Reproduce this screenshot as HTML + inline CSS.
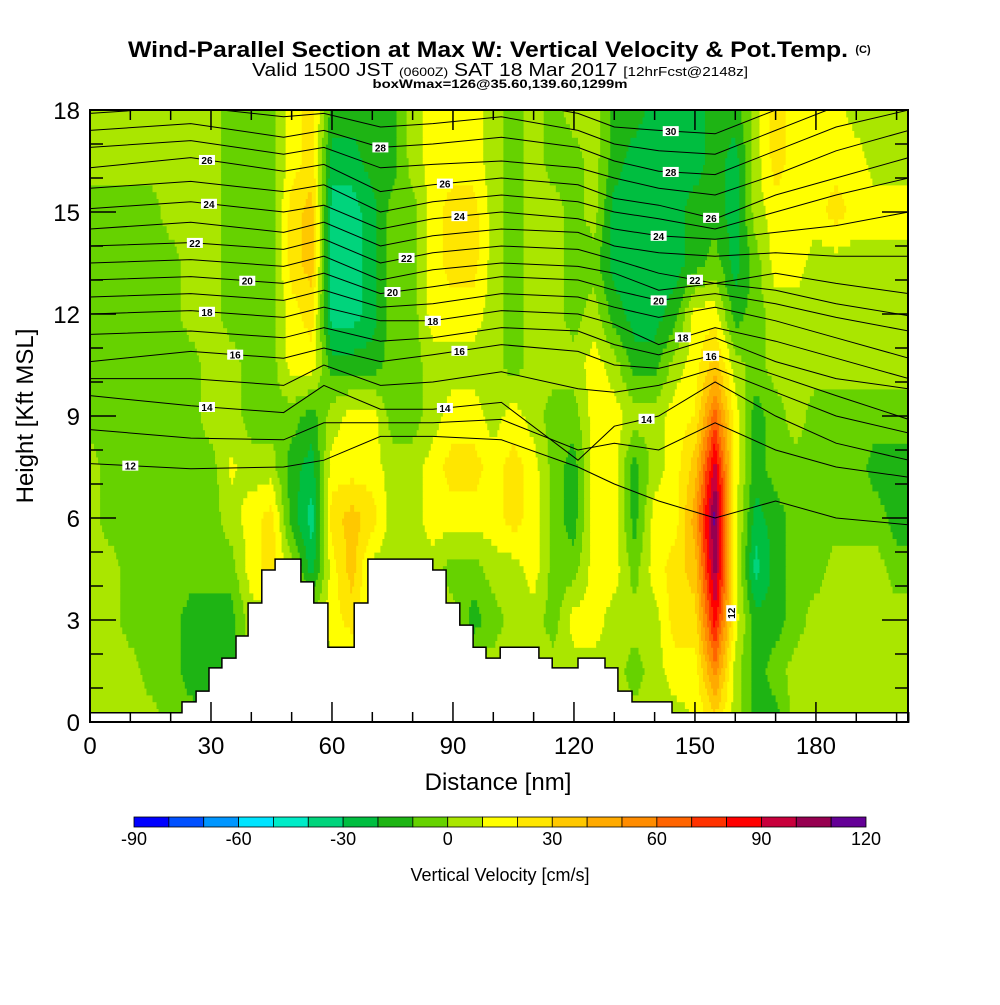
<!DOCTYPE html>
<html><head><meta charset="utf-8">
<style>
body{margin:0;background:#fff;}
svg text{font-family:"Liberation Sans",sans-serif;}
</style></head>
<body>
<svg id="chart" width="1000" height="1000" viewBox="0 0 1000 1000" xmlns="http://www.w3.org/2000/svg">
<rect width="1000" height="1000" fill="#fff"/>
<text x="488" y="57" text-anchor="middle" font-size="22" font-weight="bold" textLength="720" lengthAdjust="spacingAndGlyphs">Wind-Parallel Section at Max W: Vertical Velocity &amp; Pot.Temp.</text>
<text x="863" y="53" text-anchor="middle" font-size="11" font-weight="bold">(C)</text>
<text x="500" y="76" text-anchor="middle" font-size="18" textLength="496" lengthAdjust="spacingAndGlyphs">Valid 1500 JST <tspan font-size="12">(0600Z)</tspan> SAT 18 Mar 2017 <tspan font-size="13">[12hrFcst@2148z]</tspan></text>
<text x="500" y="88" text-anchor="middle" font-size="12" font-weight="bold" textLength="255" lengthAdjust="spacingAndGlyphs">boxWmax=126@35.60,139.60,1299m</text>
<defs><clipPath id="plotclip"><rect x="90" y="110" width="818" height="612"/></clipPath></defs>
<g id="field" clip-path="url(#plotclip)"></g>
<g id="isentropes" clip-path="url(#plotclip)"></g>
<g id="terrain"></g>
<g id="clabels"></g>
<g id="axes"></g>
<g id="colorbar"></g>
<text transform="translate(33,416) rotate(-90)" text-anchor="middle" font-size="24">Height [Kft MSL]</text>
<text x="498" y="790" text-anchor="middle" font-size="24">Distance [nm]</text>
<text x="500" y="881" text-anchor="middle" font-size="18">Vertical Velocity [cm/s]</text>
</svg>
<script>
// ---- data ----
const gridX = [0,5,10,15,20,25,30,35,40,45,50,55,60,65,70,75,80,85,90,95,100,105,110,115,120,125,130,135,140,145,150,155,160,165,170,175,180,185,190,195,200,205];
const gridK = [0,1.5,3,4.5,6,7.5,9,10.5,12,13.5,15,16.5,18];
const wCols = [
[5,5,5,5,5,5,-5,-5,-5,-5,-5,5,5],
[5,5,5,5,-5,-5,-5,-5,-5,-5,-5,5,5],
[5,5,-5,-5,-5,-5,-5,-5,-5,-5,-5,5,5],
[5,-5,-5,-5,-5,-5,-5,-5,-5,-5,-5,5,5],
[-5,-5,-5,-5,-5,-5,-5,-5,-5,-5,5,5,5],
[-5,-15,-15,-5,-5,-5,-5,-5,5,5,5,5,5],
[-15,-15,-15,-5,-5,-5,5,5,5,5,5,5,5],
[-15,-15,-15,-5,5,12,5,5,-5,-5,-5,-5,-5],
[5,5,5,15,15,5,-5,-5,-5,-5,-5,-5,-5],
[5,5,5,25,25,5,-5,-5,-5,-5,-5,-5,-5],
[5,5,5,5,-15,-15,-5,15,15,25,25,15,15],
[5,5,5,-25,-35,-25,-15,15,25,35,35,25,25],
[5,5,15,15,25,15,5,-15,-35,-35,-35,-25,-15],
[5,5,25,35,35,15,15,-15,-35,-35,-35,-25,-15],
[5,5,5,5,25,15,15,-15,-25,-25,-25,-15,-15],
[5,5,5,5,5,5,-5,-5,-5,-5,-5,-15,-15],
[5,5,5,5,5,5,-5,-5,-5,-5,-5,5,5],
[5,5,5,5,15,15,5,5,15,15,15,15,15],
[5,5,5,-5,15,25,15,5,15,25,25,15,15],
[5,5,-15,-5,15,25,15,5,15,25,25,15,15],
[5,5,-5,5,15,15,5,5,5,5,5,5,5],
[5,5,5,5,25,25,15,-5,-5,-5,-5,-5,-5],
[5,5,5,15,15,15,5,5,5,5,5,5,5],
[5,5,-5,-5,-5,-5,-5,5,5,5,5,-5,-5],
[5,5,15,-5,-15,-15,-5,5,-5,-5,-5,-5,5],
[5,5,15,15,15,15,15,15,5,-5,5,5,5],
[5,5,5,15,15,15,15,5,-15,-25,-25,-15,-15],
[5,-5,5,-5,-15,-15,5,-15,-25,-25,-25,-25,-15],
[5,5,5,15,15,5,5,-15,-25,-25,-25,-25,-25],
[5,15,25,25,15,15,15,5,-15,-25,-25,-25,-25],
[10,15,25,35,45,35,20,15,15,-15,-15,-25,-25],
[25,55,85,105,115,95,65,35,15,-5,-15,-15,-15],
[5,5,15,15,15,15,15,5,-15,-25,-25,-25,-15],
[-15,-15,-15,-35,-25,-15,-15,-5,-5,-5,5,5,5],
[-15,-5,-15,-15,-15,-5,-5,5,5,15,15,25,25],
[5,5,-5,-5,-5,-5,5,5,5,15,15,15,15],
[5,5,5,-5,-5,-5,-5,5,5,5,15,15,15],
[5,5,5,5,-5,-5,-5,5,5,5,25,15,15],
[5,5,5,5,-5,-5,-5,5,5,5,15,15,5],
[5,5,5,5,-5,-15,-5,5,5,5,15,5,5],
[5,5,5,-5,-15,-15,-5,5,5,5,15,5,5],
[5,5,5,-5,-15,-15,-5,5,5,5,15,5,5]
];
const thetaLevels = [12,13,14,15,16,17,18,19,20,21,22,23,24,25,26,27,28,29,30];
const thetaNodesX = [0,25,48,58,72,85,102,121,130,141,155,170,185,203];
const thetaHeights = [
[7.6,7.45,7.5,7.7,8.4,8.4,8.3,7.5,7.0,6.5,6.0,6.5,6.0,5.8],
[8.6,8.35,8.3,8.8,8.8,8.8,8.9,8.0,8.2,8.0,8.8,8.0,7.5,7.2],
[9.6,9.3,9.1,9.9,9.2,9.2,9.4,7.7,8.7,9.0,10.0,9.0,8.2,7.7],
[10.1,10.1,9.9,10.5,9.9,10.0,10.3,9.8,9.7,9.9,10.4,9.7,9.0,8.5],
[10.6,10.9,10.7,11.0,10.6,10.8,11.1,10.9,10.5,10.4,10.8,10.2,9.6,8.9],
[11.4,11.5,11.3,11.6,11.2,11.3,11.6,11.5,11.1,10.8,11.3,10.6,10.1,9.8],
[12.0,12.1,11.9,12.2,11.8,11.8,12.1,12.0,11.7,11.1,11.6,11.2,10.7,10.1],
[12.5,12.6,12.4,12.7,12.2,12.3,12.6,12.5,12.2,11.9,12.2,11.8,11.3,10.7],
[13.0,13.1,12.9,13.2,12.6,12.8,13.1,13.0,12.7,12.4,12.6,12.3,11.9,11.5],
[13.5,13.6,13.4,13.7,13.0,13.3,13.5,13.4,13.2,12.7,12.9,12.7,12.3,11.95],
[14.0,14.1,13.9,14.2,13.5,13.8,14.0,13.9,13.6,13.2,12.9,13.2,12.9,12.6],
[14.5,14.7,14.4,14.7,14.0,14.3,14.5,14.4,14.0,13.8,13.7,13.8,13.7,13.7],
[15.1,15.3,15.0,15.2,14.5,14.8,15.0,14.8,14.5,14.3,14.2,14.4,14.6,15.0],
[15.7,15.9,15.6,15.8,15.0,15.3,15.5,15.3,15.0,14.8,14.5,15.0,15.5,16.0],
[16.3,16.6,16.2,16.4,15.6,15.8,16.0,15.8,15.4,15.2,14.8,15.5,16.0,16.6],
[16.9,17.1,16.7,16.9,16.3,16.4,16.5,16.3,16.0,15.7,15.5,16.1,16.8,17.4],
[17.4,17.6,17.2,17.4,16.9,17.0,17.2,16.9,16.5,16.2,16.1,16.8,17.5,18.0],
[17.9,18.1,17.8,17.9,17.5,17.6,17.8,17.4,17.0,16.8,16.7,17.4,18.1,18.5],
[18.4,18.6,18.3,18.4,18.1,18.1,18.3,17.9,17.5,17.4,17.3,18.0,18.6,19.0]
];
const labelLevels = [26,24,22,20,18,16,14,12,28,26,24,22,20,18,16,14,30,28,26,24,22,20,18,16,14];
const labelNm =     [29,29.5,26,39,29,36,29,10,72,88,91.6,78.5,75,85,91.6,88,144,144,154,141,150,141,147,154,138];
const terrainEdges = [0,22.8,26.3,29.5,32.7,36.2,39.2,42.6,45.9,52.3,55.5,59,65.5,68.9,85,88.3,91.7,95,98.2,101.7,111.3,114.6,121,127.7,130.9,134.4,144.3,203];
const terrainH = [0.27,0.59,0.91,1.59,1.88,2.53,3.5,4.47,4.79,4.12,3.5,2.2,3.5,4.79,4.47,3.5,2.85,2.2,1.88,2.2,1.88,1.59,1.88,1.59,0.91,0.59,0.27];
const xTicks = [0,30,60,90,120,150,180];
const yTicks = [0,3,6,9,12,15,18];
const cbarLabels = [-90,-60,-30,0,30,60,90,120];
const cbarColors = ["#0000ff","#0050ff","#0096ff","#00e4ff","#00ecc8","#00d47c","#00be40","#1eb414","#66d200","#aae600","#ffff00","#ffe600","#ffc800","#ffaa00","#ff8c00","#ff6400","#ff3200","#ff0000","#c8003c","#960050","#640096"];

// ---- axes functions ----
const NS="http://www.w3.org/2000/svg";
const X0=90,X1=908,Y0=722,Y1=110;
const pxPerNm=4.033, pxPerK=34;
function X(nm){return X0+nm*pxPerNm;}
function Y(k){return Y0-k*pxPerK;}
function colorOf(v){let b=Math.floor((v+90)/10);b=Math.max(0,Math.min(20,b));return cbarColors[b];}
function mk(tag,attrs,parent){const e=document.createElementNS(NS,tag);for(const k in attrs)e.setAttribute(k,attrs[k]);parent.appendChild(e);return e;}
function sample(nm,k){
  let i=Math.min(gridX.length-2,Math.max(0,Math.floor(nm/5)));
  let j=Math.min(gridK.length-2,Math.max(0,Math.floor(k/1.5)));
  let tx=(nm-gridX[i])/(gridX[i+1]-gridX[i]); let ty=(k-gridK[j])/(gridK[j+1]-gridK[j]);
  tx=Math.max(0,Math.min(1,tx)); ty=Math.max(0,Math.min(1,ty));
  const a=wCols[i][j],b=wCols[i+1][j],c=wCols[i][j+1],d=wCols[i+1][j+1];
  return a*(1-tx)*(1-ty)+b*tx*(1-ty)+c*(1-tx)*ty+d*tx*ty;
}
// ---- field ----
const field=document.getElementById('field');
const dNm=0.5,dK=0.2;
for(let k=0;k<18.0001;k+=dK){
  let runStart=0,runColor=null;
  for(let nm=0;nm<=203.5+1e-9;nm+=dNm){
    const c=(nm<=203)?colorOf(sample(nm+dNm/2,k+dK/2)):null;
    if(c!==runColor){
      if(runColor){
        const r=mk('rect',{x:X(runStart).toFixed(2),y:Y(k+dK).toFixed(2),width:(X(nm)-X(runStart)+0.6).toFixed(2),height:(dK*pxPerK+0.6).toFixed(2),fill:runColor},field);
        
        
      }
      runStart=nm;runColor=c;
    }
  }
}
// ---- isentropes ----
const iso=document.getElementById('isentropes');
function thetaY(li,nm){
  const xs=thetaNodesX,hs=thetaHeights[li];
  for(let i=0;i<xs.length-1;i++){ if(nm<=xs[i+1]){const t=(nm-xs[i])/(xs[i+1]-xs[i]);return hs[i]+(hs[i+1]-hs[i])*t;} }
  return hs[hs.length-1];
}
thetaLevels.forEach((lev,li)=>{
  const pts=thetaNodesX.map((x,i)=>X(x).toFixed(1)+','+Y(thetaHeights[li][i]).toFixed(1)).join(' ');
  const p=mk('polyline',{points:pts,fill:'none',stroke:'#000','stroke-width':1},iso);
  
  
});
// ---- terrain ----
const ter=document.getElementById('terrain');
let tp=[X(0)+','+Y(0)];
terrainH.forEach((h,i)=>{tp.push(X(terrainEdges[i]).toFixed(1)+','+Y(h).toFixed(1));tp.push(X(terrainEdges[i+1]).toFixed(1)+','+Y(h).toFixed(1));});
tp.push(X(203)+','+Y(0));
const tpoly=mk('polygon',{points:tp.join(' '),fill:'#fff',stroke:'#000','stroke-width':1.5},ter);


// ---- contour labels ----
const cl=document.getElementById('clabels');
labelLevels.forEach((lev,i)=>{
  const li=thetaLevels.indexOf(lev);
  const nm=labelNm[i]; const y=Y(thetaY(li,nm)); const x=X(nm);
  const g=mk('g',{},cl);
  
  
  mk('rect',{x:x-8,y:y-5,width:16,height:10,fill:'#fff'},g);
  const t=mk('text',{x:x,y:y+4,'text-anchor':'middle','font-size':10,'font-weight':'bold'},g);
  t.textContent=lev;
});
(function(){const x=X(159),y=Y(3.2);const g=mk('g',{transform:`translate(${x},${y}) rotate(-90)`},cl);


mk('rect',{x:-8,y:-5,width:16,height:10,fill:'#fff'},g);
const t=mk('text',{x:0,y:4,'text-anchor':'middle','font-size':10,'font-weight':'bold'},g);t.textContent='12';})();
// ---- axes ----
const ax=document.getElementById('axes');
const frame=mk('rect',{x:X0,y:Y1,width:X1-X0,height:Y0-Y1,fill:'none',stroke:'#000','stroke-width':2},ax);


for(let nm=0;nm<=200;nm+=10){
  const L=(nm%30===0)?20:10;const x=X(nm);
  mk('line',{x1:x,y1:Y0,x2:x,y2:Y0-L,stroke:'#000','stroke-width':1.5},ax);
  mk('line',{x1:x,y1:Y1,x2:x,y2:Y1+L,stroke:'#000','stroke-width':1.5},ax);
}
for(let k=0;k<=18;k+=1){
  const L=(k%3===0)?26:13;const y=Y(k);
  mk('line',{x1:X0,y1:y,x2:X0+L,y2:y,stroke:'#000','stroke-width':1.5},ax);
  mk('line',{x1:X1,y1:y,x2:X1-L,y2:y,stroke:'#000','stroke-width':1.5},ax);
}
xTicks.forEach(v=>{const t=mk('text',{x:X(v),y:754,'text-anchor':'middle','font-size':24},ax);t.textContent=v;

});
yTicks.forEach(v=>{const t=mk('text',{x:80,y:Y(v)+9,'text-anchor':'end','font-size':24},ax);t.textContent=v;

});
// ---- colorbar ----
const cb=document.getElementById('colorbar');
const cbX0=134,cbX1=866,cbY=817,cbH=10;const bw=(cbX1-cbX0)/cbarColors.length;
cbarColors.forEach((c,i)=>{const r=mk('rect',{x:cbX0+i*bw,y:cbY,width:bw,height:cbH,fill:c,stroke:'#000','stroke-width':0.8},cb);

});
cbarLabels.forEach(v=>{const x=cbX0+(v+90)/10*bw;const t=mk('text',{x:x,y:845,'text-anchor':'middle','font-size':18},cb);t.textContent=v;

});
</script>
</body></html>
